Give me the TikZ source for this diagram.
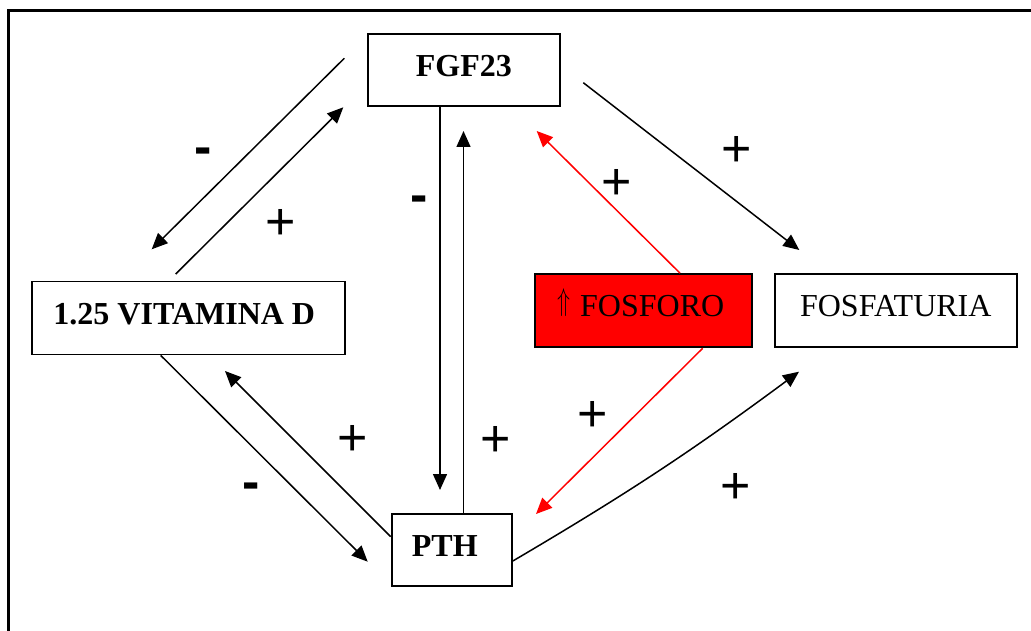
\documentclass[tikz,border=0pt]{standalone}
\usepackage{fontspec}
\setmainfont{Liberation Serif}
\newfontfamily\signfont{Liberation Sans}
\usetikzlibrary{arrows.meta,calc}

\begin{document}
\begin{tikzpicture}[x=1pt,y=-1pt,
  box/.style={draw, line width=1.8pt, inner sep=0pt,
    font=\fontsize{32}{38}\selectfont, text height=22pt, text depth=10pt},
  boldbox/.style={box, font=\fontsize{32}{38}\selectfont\bfseries},
  link/.style={line width=1.5pt, -{Triangle[length=16pt,width=14pt]}},
  redlink/.style={link, red},
  plus/.style={font=\fontsize{52}{60}\selectfont\signfont, anchor=base,
    yshift=-18.4pt, inner sep=0pt},
  minus/.style={font=\fontsize{52}{60}\selectfont\signfont\bfseries, anchor=base,
    yshift=-13.5pt, inner sep=0pt},
]
\useasboundingbox (0,0) rectangle (1031,631);

% outer frame
\draw[line width=3.5pt, line join=miter] (8.7,640) -- (8.7,10.5) -- (1040,10.5);

% boxes
\node[boldbox, minimum width=192.3pt, minimum height=71.7pt] (fgf) at (463.9,70.2) {FGF23};
\node[boldbox, minimum width=313.3pt, minimum height=73pt] (vitd) at (188.3,318) {1.25 VITAMINA D\hspace*{8pt}};
\node[box, fill=red, minimum width=217.3pt, minimum height=73.3pt] (fosf) at (643.7,310.7)
  {\raisebox{6pt}{\resizebox*{13pt}{28pt}{$\Uparrow$}}\hspace{10pt}FOSFORO\hspace*{6pt}};
\node[box, minimum width=241.7pt, minimum height=72.7pt] (fosfat) at (895.8,310.3) {FOSFATURIA};
\node[boldbox, minimum width=120.3pt, minimum height=72pt] (pth) at (451.8,550) {PTH\hspace*{14pt}};

% free ends of the connectors
\coordinate (fgfL) at (344.3,58.3);
\coordinate (vitdT) at (151.7,249.3);
\coordinate (vitdU) at (175.7,274);
\coordinate (fgfLb) at (343.3,107.3);
\coordinate (pthTa) at (440,490);
\coordinate (fgfBb) at (463.5,131);
\coordinate (fgfBr) at (536.7,131);
\coordinate (pthTr) at (536,514);
\coordinate (fgfR) at (583.3,82.7);
\coordinate (fosfatT) at (799.3,250);
\coordinate (fosfatB) at (799,371.7);
\coordinate (pthL) at (367.7,561.7);
\coordinate (vitdB) at (225,371);

% connectors
\draw[link] (fgfL) -- (vitdT);
\draw[link] (vitdU) -- (fgfLb);
\draw[link] ($(fgf.south)+(-23.9,0)$) -- (pthTa);
\draw[link] ($(pth.north)+(11.7,0)$) -- (fgfBb);
\draw[redlink] ($(fosf.north)+(36.3,0)$) -- (fgfBr);
\draw[redlink] ($(fosf.south)+(59,0)$) -- (pthTr);
\draw[link] (fgfR) -- (fosfatT);
\draw[link] ($(pth.east)+(0,11)$) to[bend right=3] (fosfatB);
\draw[link] ($(vitd.south)+(-27.6,0)$) -- (pthL);
\draw[link] ($(pth.west)+(0,-13.3)$) -- (vitdB);

% signs
\node[minus] (s1) at (203,150.7) {-};
\node[plus]  (s2) at (281,221) {+};
\node[minus] (s3) at (419,199) {-};
\node[plus]  (s4) at (496,437.7) {+};
\node[plus]  (s5) at (616.7,180.7) {+};
\node[plus]  (s6) at (592.7,412.7) {+};
\node[plus]  (s7) at (736.7,148.3) {+};
\node[plus]  (s8) at (736,485) {+};
\node[minus] (s9) at (251,486) {-};
\node[plus]  (s10) at (352.3,436.7) {+};
\end{tikzpicture}
\end{document}
